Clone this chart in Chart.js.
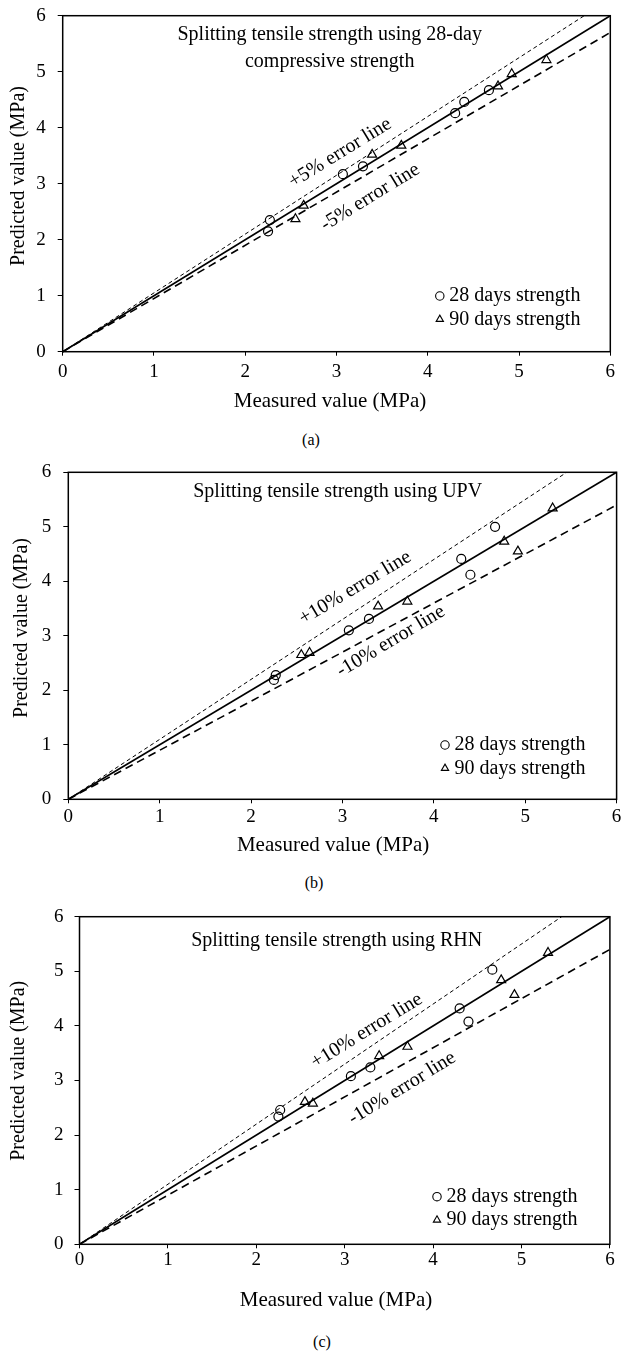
<!DOCTYPE html>
<html>
<head>
<meta charset="utf-8">
<script src="https://cdn.jsdelivr.net/npm/chart.js@4.4.1/dist/chart.umd.min.js"></script>
<style>
  html, body { margin: 0; padding: 0; background: #fff; }
  body { width: 623px; height: 1351px; position: relative; overflow: hidden; }
  .panel { position: absolute; left: 0; width: 623px; }
  .caption { position: absolute; width: 60px; margin-left: -30px; text-align: center;
             font: 16px 'Liberation Serif', 'Times New Roman', serif; color: #000; line-height: 20px; margin-top: -10px; }
</style>
</head>
<body>
<div class="panel" style="top:0;height:420px"><canvas id="chartA"></canvas></div>
<div class="caption" style="left:311px;top:440px">(a)</div>
<div class="panel" style="top:440px;height:420px"><canvas id="chartB"></canvas></div>
<div class="caption" style="left:314px;top:883px">(b)</div>
<div class="panel" style="top:890px;height:440px"><canvas id="chartC"></canvas></div>
<div class="caption" style="left:322px;top:1342px">(c)</div>

<script>
const FONT = "'Liberation Serif', 'Times New Roman', serif";
Chart.defaults.font.family = FONT;
Chart.defaults.color = '#000';
Chart.defaults.animation = false;

// axis ticks, both axes
const tickValues = [0, 1, 2, 3, 4, 5, 6];
const seriesLabels = ['28 days strength', '90 days strength'];

// measured splitting tensile strength (MPa)
const measured28 = [2.25, 2.27, 3.07, 3.29, 4.30, 4.40, 4.67];
const measured90 = [2.55, 2.64, 3.39, 3.71, 4.77, 4.92, 5.30];

// (a) predicted from 28-day compressive strength
const predA28 = [2.15, 2.35, 3.17, 3.31, 4.26, 4.46, 4.67];
const predA90 = [2.37, 2.61, 3.52, 3.68, 4.74, 4.96, 5.21];
// (b) predicted from UPV
const predB28 = [2.19, 2.28, 3.10, 3.31, 4.41, 4.12, 5.00];
const predB90 = [2.65, 2.69, 3.54, 3.63, 4.73, 4.55, 5.34];
// (c) predicted from RHN
const predC28 = [2.34, 2.46, 3.08, 3.24, 4.32, 4.08, 5.03];
const predC90 = [2.61, 2.58, 3.45, 3.62, 4.84, 4.57, 5.34];

// error bands (%)
const errorA = 5;
const errorB = 10;
const errorC = 10;

const titleA = ['Splitting tensile strength using 28-day', 'compressive strength'];
const titleB = ['Splitting tensile strength using UPV'];
const titleC = ['Splitting tensile strength using RHN'];

// draws frame, inner title, error line notes and legend
const panelDecor = {
  id: 'panelDecor',
  afterLayout(chart, args, o) {
    const {x, y} = chart.scales;
    // nudge only the axis titles (datasets use clip: false)
    x.left += o.xTitleShift; x.right += o.xTitleShift;
    y.top += o.yTitleShift; y.bottom += o.yTitleShift;
  },
  afterDatasetsDraw(chart, args, o) {
    const {ctx, chartArea: a, scales: {x, y}} = chart;
    ctx.save();
    ctx.strokeStyle = '#000';
    ctx.lineWidth = 1.5;
    ctx.strokeRect(a.left, a.top, a.right - a.left, a.bottom - a.top);

    ctx.fillStyle = '#000';
    ctx.font = '20px ' + FONT;
    ctx.textAlign = 'center';
    ctx.textBaseline = 'middle';
    o.title.forEach((line, i) => ctx.fillText(line, o.titleX, o.titleY + i * 26.7));

    const ang = Math.atan2(y.getPixelForValue(0) - y.getPixelForValue(1),
                           x.getPixelForValue(1) - x.getPixelForValue(0));
    o.notes.forEach(n => {
      ctx.save();
      ctx.translate(x.getPixelForValue(n.x), y.getPixelForValue(n.y));
      ctx.rotate(-ang);
      ctx.fillText(n.text, 0, 0);
      ctx.restore();
    });

    ctx.textAlign = 'left';
    ctx.lineWidth = 1.1;
    chart.data.datasets.slice(0, 2).forEach((ds, i) => {
      const yy = o.legendY + i * 23.3;
      ctx.fillStyle = 'rgba(0,0,0,0)';
      Chart.helpers.drawPoint(ctx, {pointStyle: ds.pointStyle, radius: 4.2, borderWidth: 1.1}, o.legendX, yy);
      ctx.fillStyle = '#000';
      ctx.fillText(ds.label, o.legendX + 9.5, yy);
    });
    ctx.restore();
  }
};

function makeChart(id, p) {
  const pts = (xs, ys) => xs.map((v, i) => ({x: v, y: ys[i]}));
  const hi = tickValues[tickValues.length - 1];
  const e = p.err / 100;
  const lineStyle = {showLine: true, pointRadius: 0, borderColor: '#000', fill: false, clip: false};
  return new Chart(document.getElementById(id), {
    type: 'scatter',
    data: {
      datasets: [
        {label: seriesLabels[0], data: pts(measured28, p.pred28), pointStyle: 'circle', pointRadius: 4.5,
         borderColor: '#000', backgroundColor: 'rgba(0,0,0,0)', pointBorderWidth: 1.2, clip: false},
        {label: seriesLabels[1], data: pts(measured90, p.pred90), pointStyle: 'triangle', pointRadius: 5.2,
         borderColor: '#000', backgroundColor: 'rgba(0,0,0,0)', pointBorderWidth: 1.2, clip: false},
        {label: 'equality', data: [{x: 0, y: 0}, {x: hi, y: hi}], ...lineStyle, borderWidth: 1.6},
        {label: '+' + p.err + '%', data: [{x: 0, y: 0}, {x: hi / (1 + e), y: hi}], ...lineStyle,
         borderWidth: 1, borderDash: [4, 3]},
        {label: '-' + p.err + '%', data: [{x: 0, y: 0}, {x: hi, y: hi * (1 - e)}], ...lineStyle,
         borderWidth: 1.6, borderDash: [8, 5]}
      ]
    },
    options: {
      responsive: true,
      maintainAspectRatio: false,
      devicePixelRatio: 1,
      layout: {padding: {left: 0, top: p.padTop, right: p.padRight, bottom: 0}},
      scales: {
        x: {
          type: 'linear', min: tickValues[0], max: hi,
          afterBuildTicks: s => { s.ticks = tickValues.map(v => ({value: v})); },
          border: {display: false},
          grid: {display: true, drawOnChartArea: false, drawTicks: true, tickLength: 4, color: '#000', lineWidth: 1},
          ticks: {color: '#000', font: {size: 19}, padding: p.xTickPad, maxRotation: 0, autoSkip: false},
          title: {display: true, text: 'Measured value (MPa)', color: '#000', font: {size: 21},
                  padding: {top: 0, bottom: p.xTitlePad}},
          afterFit: s => { s.height = p.xAxisH; s.paddingLeft = 0; s.paddingRight = 0; }
        },
        y: {
          type: 'linear', min: tickValues[0], max: hi,
          afterBuildTicks: s => { s.ticks = tickValues.map(v => ({value: v})); },
          border: {display: false},
          grid: {display: true, drawOnChartArea: false, drawTicks: true, tickLength: 5, color: '#000', lineWidth: 1},
          ticks: {color: '#000', font: {size: 19}, padding: p.yTickPad, autoSkip: false},
          title: {display: true, text: 'Predicted value (MPa)', color: '#000', font: {size: 20},
                  padding: {top: p.yTitlePad, bottom: 0}},
          afterFit: s => { s.width = p.yAxisW; s.paddingTop = 0; s.paddingBottom = 0; }
        }
      },
      plugins: {
        legend: {display: false},
        tooltip: {enabled: false},
        panelDecor: {
          title: p.title, titleX: p.titleX, titleY: p.titleY,
          notes: p.notes, legendX: p.legendX, legendY: p.legendY,
          xTitleShift: p.xTitleShift, yTitleShift: p.yTitleShift
        }
      }
    },
    plugins: [panelDecor]
  });
}

makeChart('chartA', {
  pred28: predA28, pred90: predA90, err: errorA, title: titleA,
  padTop: 15.7, padRight: 12.7, xAxisH: 68.3, yAxisW: 62.7,
  xTickPad: 5, yTickPad: 12, xTitlePad: 5.7, yTitlePad: 7,
  xTitleShift: -6.5, yTitleShift: -7.7,
  titleX: 329.7, titleY: 35,
  legendX: 439.8, legendY: 296,
  notes: [{text: '+' + errorA + '% error line', x: 3.04, y: 3.55},
          {text: '-' + errorA + '% error line', x: 3.37, y: 2.76}]
});

makeChart('chartB', {
  pred28: predB28, pred90: predB90, err: errorB, title: titleB,
  padTop: 32.3, padRight: 1.3, xAxisH: 60.7, yAxisW: 68.3,
  xTickPad: 2.1, yTickPad: 12, xTitlePad: 2.4, yTitlePad: 9.9,
  xTitleShift: -9.3, yTitleShift: -7.8,
  titleX: 337.7, titleY: 51.7,
  legendX: 445, legendY: 305,
  notes: [{text: '+' + errorB + '% error line', x: 3.14, y: 3.88},
          {text: '-' + errorB + '% error line', x: 3.53, y: 2.90}]
});

makeChart('chartC', {
  pred28: predC28, pred90: predC90, err: errorC, title: titleC,
  padTop: 26.7, padRight: 13.1, xAxisH: 85.7, yAxisW: 79.5,
  xTickPad: 0.5, yTickPad: 11, xTitlePad: 16.7, yTitlePad: 7,
  xTitleShift: -8.7, yTitleShift: -9.7,
  titleX: 336.7, titleY: 50.7,
  legendX: 437, legendY: 306.7,
  notes: [{text: '+' + errorC + '% error line', x: 3.25, y: 3.91},
          {text: '-' + errorC + '% error line', x: 3.65, y: 2.86}]
});
</script>
</body>
</html>
